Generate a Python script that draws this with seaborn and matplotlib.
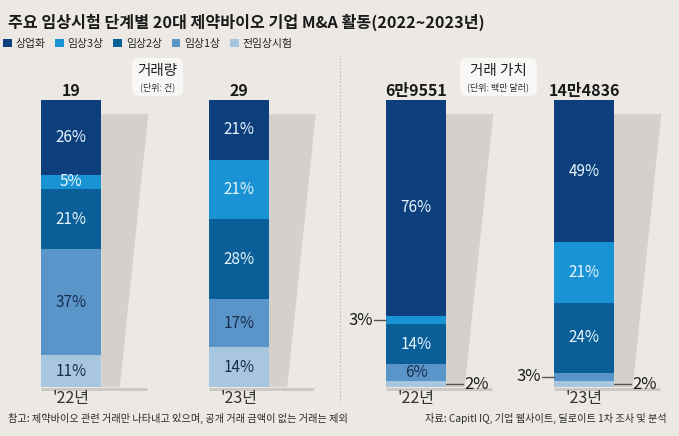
import matplotlib
matplotlib.use("Agg")
import matplotlib.pyplot as plt
from matplotlib import font_manager
from matplotlib.patches import Patch, Polygon, FancyBboxPatch
import seaborn as sns
import pandas as pd

# ---------------- data ----------------
years = ["'22년", "'23년"]
stages = ["상업화", "임상3상", "임상2상", "임상1상", "전임상시험"]
volume_22 = [26, 5, 21, 37, 11]
volume_23 = [21, 21, 28, 17, 14]
value_22 = [76, 3, 14, 6, 2]
value_23 = [49, 21, 24, 3, 2]
volume_totals = ["19", "29"]
value_totals = ["6만9551", "14만4836"]

title = "주요 임상시험 단계별 20대 제약바이오 기업 M&A 활동(2022~2023년)"
note_left = "참고: 제약바이오 관련 거래만 나타내고 있으며, 공개 거래 금액이 없는 거래는 제외"
note_right = "자료: Capitl IQ, 기업 웹사이트, 딜로이트 1차 조사 및 분석"

colors = {"상업화": "#0c3f7c", "임상3상": "#1a93d5", "임상2상": "#0b5f98",
          "임상1상": "#5a95c9", "전임상시험": "#a8c6df"}
dark_text = {"임상1상", "전임상시험"}

sns.set_theme(style="white")
BG = "#ece9e5"


def has_font(name):
    try:
        font_manager.findfont(font_manager.FontProperties(family=name), fallback_to_default=False)
        return True
    except Exception:
        return False

KR = "Noto Sans CJK KR"
NARROW = [f for f in ["Liberation Sans Narrow", "DejaVu Sans Condensed"] if has_font(f)]
NUMF = NARROW + [KR, "DejaVu Sans"]
plt.rcParams["font.family"] = [KR, "DejaVu Sans"]
plt.rcParams["axes.unicode_minus"] = False

fig = plt.figure(figsize=(6.79, 4.36), dpi=100, facecolor=BG)
W, H = 679, 436


def fx(px):
    return px / W


def fy(py):
    return 1 - py / H


def draw_panel(ax, v22, v23, totals, centers_px, scale):
    rows = []
    for yr, vals in zip(years, [v22, v23]):
        tot = sum(vals)
        cum = 0
        for st, v in zip(stages[::-1], vals[::-1]):
            b = cum
            cum += v / tot * 100
            rows.append({"year": yr, "stage": st, "value": v, "bottom": b, "top": cum})
    df = pd.DataFrame(rows)
    bw = 60 / scale
    # stacked bars: draw tallest cumulative first
    for st in stages:
        sub = df[df["stage"] == st]
        sns.barplot(data=sub, x="year", y="top", order=years, color=colors[st],
                    saturation=1, width=bw, errorbar=None, linewidth=0, ax=ax)
    ax.set_xlim(-centers_px / scale, (339 - centers_px) / scale)
    ax.set_ylim(0, 100)
    ax.axis("off")
    top_shadow = (387 - 114) / 287 * 100
    for i, yr in enumerate(years):
        # perspective shadow
        poly = Polygon([(i + bw / 2, 0), (i + bw / 2, top_shadow), (i + 0.46, top_shadow),
                        (i + 0.29, 0)], closed=True, facecolor="#d4d0cc", edgecolor="none",
                       zorder=0, clip_on=False)
        ax.add_patch(poly)
        ax.plot([i - bw / 2, i + 0.45], [-0.6, -0.6], color="#cbc7c2", lw=2,
                clip_on=False, zorder=1, solid_capstyle="butt")
        sub = df[df["year"] == yr]
        for _, r in sub.iterrows():
            mid = (r["bottom"] + r["top"]) / 2
            txt = f"{r['value']}%"
            if r["value"] >= 5:
                ax.text(i, mid, txt, ha="center", va="center", fontsize=11,
                        family=NUMF,
                        color="#1b2b4b" if r["stage"] in dark_text else "#e9f5fc", zorder=5)
            elif r["stage"] == "전임상시험":
                ax.plot([i + bw / 2, i + bw / 2 + 0.1], [mid, mid], color="#555",
                        lw=1, clip_on=False, zorder=5)
                ax.text(i + bw / 2 + 0.11, mid, txt, ha="left", va="center", fontsize=12,
                        family=NUMF, color="#1a1a1a", clip_on=False)
            else:
                ax.plot([i - bw / 2 - 0.07, i - bw / 2], [mid, mid], color="#555",
                        lw=1, clip_on=False, zorder=5)
                ax.text(i - bw / 2 - 0.08, mid, txt, ha="right", va="center", fontsize=12,
                        family=NUMF, color="#1a1a1a", clip_on=False)
        ax.text(i, 103.2, totals[i], ha="center", va="center", fontsize=11.5,
                family=NUMF, fontweight="bold", color="#1a1a1a", clip_on=False)
        ax.text(i, -4, yr, ha="center", va="center", fontsize=11.5, family=NUMF,
                color="#333333", clip_on=False)


ax1 = fig.add_axes([0, fy(387), fx(340), 287 / H])
ax1.set_facecolor("none")
draw_panel(ax1, volume_22, volume_23, volume_totals, 71, 167)

ax2 = fig.add_axes([fx(340), fy(387), fx(339), 287 / H])
ax2.set_facecolor("none")
draw_panel(ax2, value_22, value_23, value_totals, 76, 168)

# unit boxes
for x0, x1, main, unit in [(132, 183, "거래량", "(단위: 건)"),
                           (460, 537, "거래 가치", "(단위: 백만 달러)")]:
    box = FancyBboxPatch((fx(x0), fy(96)), fx(x1 - x0), (96 - 58) / H,
                         boxstyle="round,pad=0,rounding_size=0.012",
                         transform=fig.transFigure, facecolor="#f8f7f5",
                         edgecolor="none", zorder=3)
    fig.patches.append(box)
    cx = fx((x0 + x1) / 2)
    fig.text(cx, fy(71), main, ha="center", va="center", fontsize=10.5, color="#222222", zorder=4)
    fig.text(cx, fy(87), unit, ha="center", va="center", fontsize=6.5, color="#333333", zorder=4)

# dashed separator
fig.add_artist(plt.Line2D([fx(340), fx(340)], [fy(58), fy(402)], transform=fig.transFigure,
                          color="#b3aea8", lw=0.8, ls=(0, (1, 2))))

# title
fig.text(fx(8), fy(22), title, ha="left", va="center", fontsize=11.6, fontweight="bold",
         color="#1a1a1a")

# legend
handles = [Patch(facecolor=colors[s], edgecolor="none") for s in stages]
fig.legend(handles, stages, loc="center left", bbox_to_anchor=(fx(3), fy(44)), ncol=5,
           frameon=False, fontsize=7.8, handlelength=0.8, handleheight=0.8,
           handletextpad=0.35, columnspacing=0.9, borderaxespad=0, borderpad=0,
           labelcolor="#222222")

# notes
fig.text(fx(8), fy(418), note_left, ha="left", va="center", fontsize=7.3, color="#2a2a2a")
fig.text(fx(667), fy(418), note_right, ha="right", va="center", fontsize=7.3, color="#2a2a2a")

fig.savefig("out.png", dpi=100, facecolor=BG)
